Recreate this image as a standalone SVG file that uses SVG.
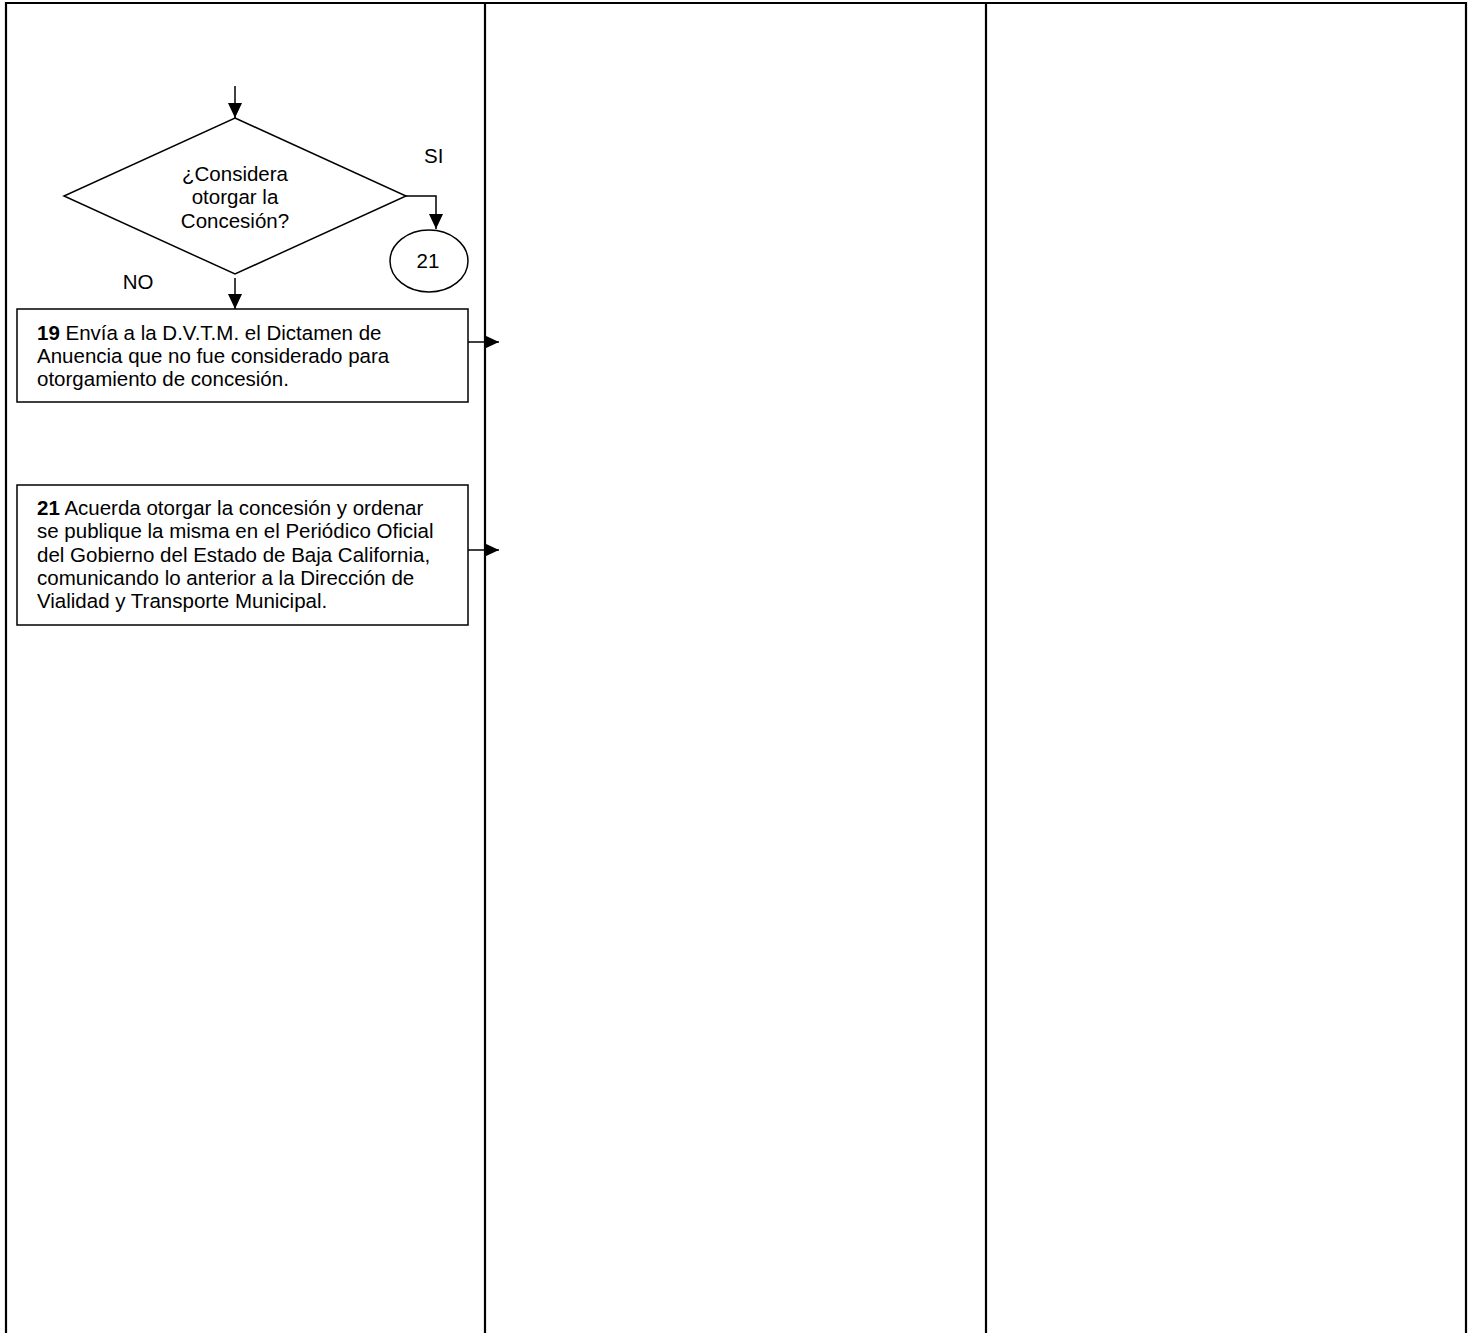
<svg xmlns="http://www.w3.org/2000/svg" width="1473" height="1333" viewBox="0 0 1473 1333">
<style>
.frame{fill:none;stroke:#000;stroke-width:2.2}
.shape{fill:#fff;stroke:#000;stroke-width:1.5}
.conn{fill:none;stroke:#000;stroke-width:1.5}
text{font-family:"Liberation Sans",Arial,sans-serif;font-size:20.5px;fill:#000}
.c{text-anchor:middle}
.b{font-weight:bold}
</style>
<defs>
<marker id="ah" viewBox="0 0 15 14" refX="15" refY="7" markerWidth="15" markerHeight="14" markerUnits="userSpaceOnUse" orient="auto">
<path d="M0,0 L15,7 L0,14 Z" fill="#000"/>
</marker>
</defs>
<g id="frame">
<path class="frame" d="M6,1333 V3 H1466 V1333"/>
<line class="frame" x1="485" y1="3" x2="485" y2="1333"/>
<line class="frame" x1="986" y1="3" x2="986" y2="1333"/>
</g>
<g id="connectors">
<line class="conn" x1="235" y1="86" x2="235" y2="118" marker-end="url(#ah)"/>
<polyline class="conn" points="406,196 436,196 436,229" marker-end="url(#ah)"/>
<line class="conn" x1="235" y1="278" x2="235" y2="309" marker-end="url(#ah)"/>
<line class="conn" x1="468" y1="342" x2="499" y2="342" marker-end="url(#ah)"/>
<line class="conn" x1="468" y1="550" x2="499" y2="550" marker-end="url(#ah)"/>
</g>
<g id="decision">
<polygon class="shape" points="235,118 406,196 235,274 64,196"/>
<text class="c" x="235" y="181">¿Considera</text>
<text class="c" x="235" y="204">otorgar la</text>
<text class="c" x="235" y="228">Concesión?</text>
</g>
<g id="label-si"><text x="424" y="163">SI</text></g>
<g id="label-no"><text class="c" x="138" y="289">NO</text></g>
<g id="connector-21">
<ellipse class="shape" cx="429" cy="261" rx="39" ry="31"/>
<text class="c" x="428" y="268">21</text>
</g>
<g id="step-19">
<rect class="shape" x="17" y="309" width="451" height="93"/>
<text x="37" y="340"><tspan class="b">19</tspan> Envía a la D.V.T.M. el Dictamen de</text>
<text x="37" y="363">Anuencia que no fue considerado para</text>
<text x="37" y="386">otorgamiento de concesión.</text>
</g>
<g id="step-21">
<rect class="shape" x="17" y="485" width="451" height="140"/>
<text x="37" y="515"><tspan class="b">21</tspan> Acuerda otorgar la concesión y ordenar</text>
<text x="37" y="538">se publique la misma en el Periódico Oficial</text>
<text x="37" y="562">del Gobierno del Estado de Baja California,</text>
<text x="37" y="585">comunicando lo anterior a la Dirección de</text>
<text x="37" y="608">Vialidad y Transporte Municipal.</text>
</g>
</svg>
